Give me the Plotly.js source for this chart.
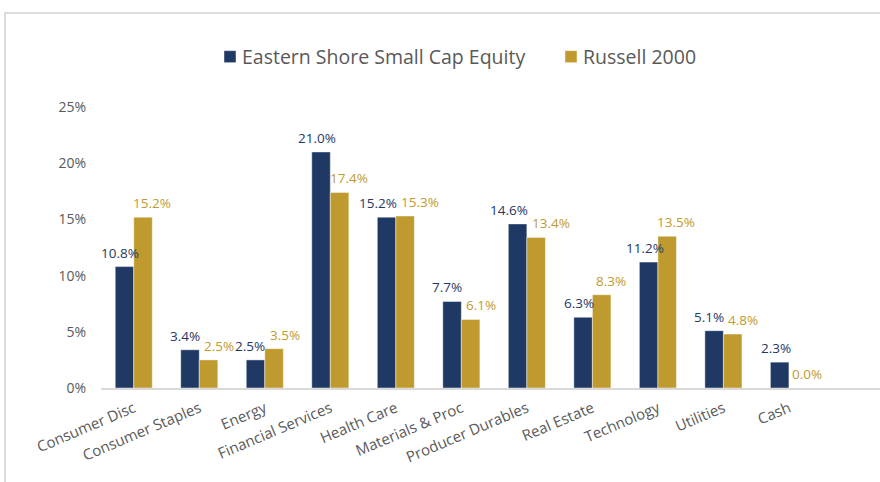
<!DOCTYPE html>
<html>
<head>
<meta charset="utf-8">
<script src="https://cdn.plot.ly/plotly-3.0.1.min.js"></script>
<style>
html,body{margin:0;padding:0;background:#fff;overflow:hidden;}
#chart{width:880px;height:482px;}
#frame{position:absolute;left:4px;top:12px;width:900px;height:500px;border-left:2px solid #dcdcdc;border-top:2px solid #dcdcdc;pointer-events:none;}
</style>
</head>
<body>
<div id="chart"></div>
<div id="frame"></div>
<script>
var categories = ["Consumer Disc","Consumer Staples","Energy","Financial Services","Health Care","Materials & Proc","Producer Durables","Real Estate","Technology","Utilities","Cash"];
var easternShore = [10.8, 3.4, 2.5, 21.0, 15.2, 7.7, 14.6, 6.3, 11.2, 5.1, 2.3];
var russell2000 = [15.2, 2.5, 3.5, 17.4, 15.3, 6.1, 13.4, 8.3, 13.5, 4.8, 0.0];
var seriesNames = ["Eastern Shore Small Cap Equity", "Russell 2000"];
var yTickVals = [0, 5, 10, 15, 20, 25];
var yTickText = ["0%", "5%", "10%", "15%", "20%", "25%"];

var navy = "#1F3864";
var gold = "#BF9A2F";
var FONT = "Open Sans, sans-serif";
var LABEL_SIZE = 13.5;

function fmt(v){ return v.toFixed(1) + "%"; }

// geometry used only for label placement (px)
var plotW = 779, plotH = 281, yMax = 25, xSpan = 11.89, bargap = 0.434;
var slotPx = plotW / xSpan;
var barHalf = slotPx * (1 - bargap) / 4;   // offset of each bar centre from the category centre
var pxPerUnit = plotH / yMax;

var ctx = document.createElement("canvas").getContext("2d");
ctx.font = LABEL_SIZE + "px 'Open Sans'";
function tw(s){ return ctx.measureText(s).width; }

var annotations = [];
categories.forEach(function(c, i){
  var a = easternShore[i], b = russell2000[i];
  var ta = fmt(a), tb = fmt(b);
  var sa = -4, sb = 9;
  var dy = Math.abs(a - b) * pxPerUnit;
  if (dy < 18) {
    var need = (tw(ta) + tw(tb)) / 2 + 4;
    var dist = 2 * barHalf - sa + sb;
    if (dist < need) { var extra = need - dist; sa -= extra * 0.4; sb += extra * 0.6; }
  }
  annotations.push({x:c, y:a, xref:"x", yref:"y", text:ta, showarrow:false, yanchor:"bottom",
    xanchor:"center", xshift:-barHalf + sa, yshift:3, font:{family:FONT, size:LABEL_SIZE, color:navy}});
  annotations.push({x:c, y:b, xref:"x", yref:"y", text:tb, showarrow:false, yanchor:"bottom",
    xanchor:"center", xshift:barHalf + sb, yshift:3, font:{family:FONT, size:LABEL_SIZE, color:gold}});
});

var traces = [
  {type:"bar", name:seriesNames[0], x:categories, y:easternShore,
   marker:{color:navy, line:{color:"rgba(255,255,255,0.45)", width:1}}, hoverinfo:"skip"},
  {type:"bar", name:seriesNames[1], x:categories, y:russell2000,
   marker:{color:gold, line:{color:"rgba(255,255,255,0.45)", width:1}}, hoverinfo:"skip"}
];

var layout = {
  width:880, height:482,
  margin:{l:101, r:0, t:107, b:94, pad:0},
  paper_bgcolor:"#ffffff", plot_bgcolor:"#ffffff",
  barmode:"group", bargap:bargap, bargroupgap:0,
  font:{family:FONT, color:"#595959"},
  showlegend:true,
  legend:{orientation:"h", x:0.12, xanchor:"left", y:1.178, yanchor:"middle",
          font:{family:FONT, size:19.5, color:"#595959"}, itemwidth:30, tracegroupgap:0,
          bgcolor:"rgba(0,0,0,0)"},
  annotations:annotations,
  xaxis:{type:"category", range:[-0.5, -0.5 + xSpan], showgrid:false, zeroline:false,
         showline:true, linecolor:"#d9d9d9", linewidth:2, ticks:"", ticklabelstandoff:4,
         tickangle:-23, tickfont:{family:FONT, size:15, color:"#595959"}, fixedrange:true},
  yaxis:{range:[0,yMax], tickvals:yTickVals, ticktext:yTickText, showgrid:false, zeroline:false,
         showline:false, ticks:"", ticklabelstandoff:14,
         tickfont:{family:FONT, size:14, color:"#595959"}, fixedrange:true}
};

Plotly.newPlot("chart", traces, layout, {displayModeBar:false, staticPlot:true}).then(function(gd){
  // let the repositioned legend items show in full
  gd.querySelectorAll(".legend [clip-path]").forEach(function(el){ el.removeAttribute("clip-path"); });
  // fine-tune legend: symbol closer to its text, items at reference positions
  var desiredSquareLeft = [224, 565];
  var items = gd.querySelectorAll(".legend .traces");
  items.forEach(function(item, i){
    var sym = item.querySelector(".legendsymbols");
    var txt = item.querySelector(".legendtext");
    if (!sym || !txt) return;
    var symRect = sym.getBoundingClientRect();
    var txtRect = txt.getBoundingClientRect();
    var wantText = desiredSquareLeft[i] + 18;
    var d = wantText - txtRect.left;
    var tr = item.getAttribute("transform") || "translate(0,0)";
    var m = /translate\(([-\d.e]+)[ ,]*([-\d.e]*)\)/.exec(tr);
    var tx = m ? parseFloat(m[1]) : 0, ty = m && m[2] ? parseFloat(m[2]) : 0;
    item.setAttribute("transform", "translate(" + (tx + d) + "," + ty + ")");
    var symShift = (wantText - 18) - (symRect.left + d);
    sym.setAttribute("transform", "translate(" + symShift + ",0)");
  });
});
</script>
</body>
</html>
